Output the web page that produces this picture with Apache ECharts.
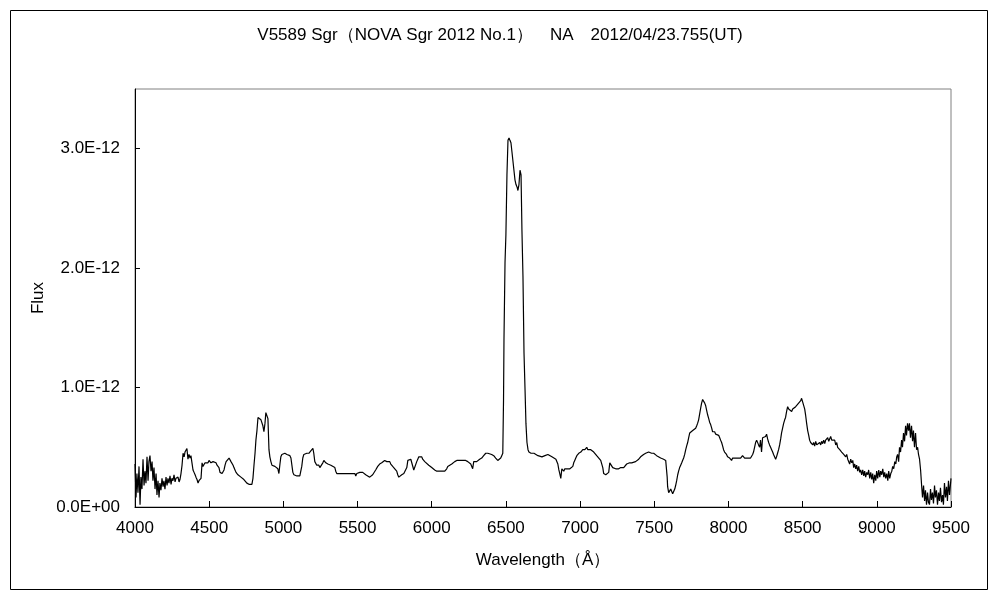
<!DOCTYPE html>
<html>
<head>
<meta charset="utf-8">
<script src="https://cdn.jsdelivr.net/npm/echarts@6/dist/echarts.min.js"></script>
<style>
  html, body { margin: 0; padding: 0; background: #fff; }
  #chart { width: 1000px; height: 600px; }
</style>
</head>
<body>
<div id="chart"></div>
<script>
const chartTitle = 'V5589 Sgr（NOVA Sgr 2012 No.1）　NA　2012/04/23.755(UT)';
const xName = 'Wavelength（Å）';
const yName = 'Flux';
const xTicks = [4000, 4500, 5000, 5500, 6000, 6500, 7000, 7500, 8000, 8500, 9000, 9500];
const yTicks = [0, 1, 2, 3];   // 単位 1E-12

// 波長 (Å)
const wavelength = [
  4000,4007,4013,4020,4027,4034,4040,4047,4054,4061,4067,4074,4081,4088,4094,4101,4108,4115,4121,4128,
  4135,4142,4148,4155,4162,4168,4175,4182,4189,4195,4202,4209,4216,4222,4229,4236,4243,4249,4256,4263,
  4270,4276,4283,4290,4297,4303,4310,4317,4324,4331,4337,4344,4350,4357,4364,4371,4377,4384,4391,4398,
  4405,4411,4418,4425,4431,4438,4445,4452,4458,4465,4472,4479,4485,4492,4499,4506,4512,4519,4526,4533,
  4539,4546,4553,4560,4566,4573,4580,4587,4593,4600,4607,4614,4620,4627,4634,4640,4647,4654,4661,4667,
  4674,4681,4694,4701,4714,4721,4734,4741,4754,4761,4768,4775,4781,4788,4795,4802,4809,4815,4822,4829,
  4835,4842,4849,4856,4862,4869,4876,4882,4889,4896,4903,4909,4916,4923,4930,4936,4943,4950,4956,4963,
  4970,4977,4983,4990,4997,5003,5010,5017,5024,5030,5037,5044,5051,5057,5064,5071,5077,5091,5104,5111,
  5118,5124,5131,5138,5145,5151,5158,5165,5172,5178,5185,5192,5199,5205,5212,5219,5225,5232,5239,5246,
  5252,5259,5266,5273,5279,5286,5293,5300,5306,5313,5320,5333,5347,5353,5360,5374,5387,5401,5414,5428,
  5441,5455,5468,5482,5488,5495,5501,5515,5528,5535,5548,5555,5568,5582,5589,5602,5609,5622,5636,5649,
  5663,5670,5683,5690,5697,5703,5717,5724,5730,5737,5751,5764,5771,5778,5784,5798,5812,5825,5832,5839,
  5845,5852,5859,5865,5872,5879,5885,5892,5899,5906,5913,5919,5926,5933,5939,5946,5953,5966,5980,5987,
  6000,6007,6020,6034,6047,6061,6074,6088,6101,6108,6121,6135,6142,6155,6169,6175,6189,6202,6209,6222,
  6229,6243,6256,6263,6270,6276,6283,6290,6303,6310,6323,6337,6344,6350,6357,6364,6378,6391,6404,6411,
  6418,6424,6431,6438,6445,6451,6458,6465,6472,6479,6484,6487,6494,6500,6507,6514,6521,6527,6534,6541,
  6548,6554,6561,6568,6575,6581,6588,6595,6602,6608,6615,6622,6629,6635,6642,6649,6655,6662,6669,6676,
  6689,6702,6716,6729,6743,6756,6763,6770,6783,6790,6796,6810,6823,6837,6843,6850,6857,6863,6870,6877,
  6884,6890,6897,6904,6911,6917,6924,6931,6937,6944,6951,6957,6964,6971,6978,6984,6991,7005,7018,7025,
  7032,7038,7045,7052,7058,7065,7072,7078,7092,7105,7112,7119,7126,7132,7139,7146,7153,7159,7166,7173,
  7179,7186,7193,7200,7206,7213,7220,7227,7240,7253,7260,7274,7287,7294,7307,7314,7321,7334,7348,7361,
  7374,7381,7395,7408,7415,7428,7442,7449,7462,7469,7482,7496,7509,7516,7529,7543,7556,7563,7577,7584,
  7587,7590,7597,7604,7611,7617,7624,7631,7638,7644,7651,7658,7664,7671,7678,7685,7691,7698,7705,7712,
  7718,7725,7732,7739,7745,7752,7759,7766,7772,7779,7786,7792,7799,7806,7813,7819,7826,7833,7840,7846,
  7853,7860,7867,7873,7880,7887,7893,7900,7907,7914,7920,7927,7934,7941,7947,7954,7961,7967,7974,7981,
  7987,7994,8001,8008,8014,8021,8028,8035,8041,8048,8055,8062,8068,8075,8082,8088,8095,8102,8109,8115,
  8122,8129,8136,8142,8149,8156,8163,8169,8176,8183,8190,8196,8203,8210,8216,8223,8230,8237,8243,8250,
  8257,8264,8271,8277,8284,8291,8298,8304,8311,8318,8324,8331,8338,8345,8352,8358,8365,8372,8379,8385,
  8392,8399,8406,8412,8419,8426,8433,8439,8446,8453,8460,8466,8473,8480,8487,8493,8500,8507,8514,8520,
  8527,8534,8541,8547,8554,8561,8568,8574,8581,8588,8595,8601,8608,8615,8622,8628,8635,8642,8649,8655,
  8662,8669,8676,8682,8689,8696,8703,8709,8716,8723,8730,8736,8743,8750,8757,8763,8770,8777,8784,8790,
  8797,8804,8811,8817,8824,8831,8838,8844,8851,8858,8864,8871,8878,8885,8891,8898,8905,8912,8918,8925,
  8932,8939,8945,8952,8959,8966,8972,8979,8986,8993,8999,9006,9013,9020,9026,9033,9040,9047,9053,9060,
  9067,9074,9080,9087,9094,9101,9107,9114,9121,9128,9134,9140,9147,9153,9160,9167,9173,9180,9187,9194,
  9200,9207,9214,9220,9227,9234,9241,9247,9254,9261,9268,9275,9281,9288,9295,9302,9308,9315,9322,9328,
  9335,9342,9348,9355,9362,9368,9375,9382,9389,9395,9402,9409,9416,9422,9429,9436,9443,9449,9456,9463,
  9470,9476,9483,9490,9500
];

// Flux (×1E-12)
const flux = [
  0.36,0.08,0.28,0.12,0.34,0.02,0.25,0.15,0.40,0.18,0.30,0.20,0.42,0.22,0.38,0.43,0.30,0.38,0.22,0.33,
  0.15,0.28,0.10,0.22,0.08,0.20,0.14,0.24,0.17,0.22,0.15,0.25,0.18,0.24,0.20,0.26,0.19,0.24,0.22,0.27,
  0.21,0.24,0.23,0.25,0.21,0.23,0.28,0.35,0.45,0.42,0.46,0.47,0.49,0.40,0.44,0.41,0.43,0.37,0.31,0.29,
  0.27,0.25,0.23,0.20,0.22,0.22,0.24,0.37,0.34,0.35,0.37,0.38,0.36,0.37,0.39,0.40,0.37,0.36,0.38,0.39,
  0.37,0.37,0.35,0.36,0.33,0.29,0.30,0.28,0.29,0.31,0.35,0.38,0.38,0.39,0.41,0.40,0.38,0.37,0.35,0.33,
  0.31,0.29,0.27,0.26,0.25,0.24,0.23,0.22,0.20,0.21,0.19,0.19,0.18,0.19,0.24,0.35,0.45,0.56,0.64,0.75,
  0.74,0.76,0.73,0.72,0.68,0.63,0.70,0.79,0.80,0.74,0.48,0.42,0.38,0.35,0.36,0.34,0.34,0.35,0.35,0.32,
  0.28,0.36,0.42,0.44,0.45,0.44,0.45,0.44,0.44,0.43,0.44,0.43,0.41,0.41,0.29,0.27,0.26,0.26,0.27,0.26,
  0.26,0.34,0.41,0.44,0.44,0.43,0.45,0.44,0.45,0.46,0.47,0.48,0.49,0.45,0.38,0.37,0.35,0.34,0.35,0.33,
  0.34,0.33,0.37,0.39,0.38,0.37,0.37,0.36,0.35,0.36,0.35,0.34,0.33,0.30,0.28,0.28,0.27,0.28,0.27,0.28,
  0.27,0.28,0.28,0.28,0.26,0.28,0.28,0.29,0.30,0.29,0.29,0.27,0.26,0.25,0.25,0.27,0.28,0.31,0.34,0.36,
  0.37,0.38,0.39,0.39,0.38,0.39,0.38,0.36,0.35,0.34,0.32,0.30,0.27,0.25,0.25,0.27,0.28,0.28,0.33,0.39,
  0.40,0.40,0.40,0.39,0.40,0.31,0.30,0.31,0.38,0.40,0.42,0.43,0.42,0.42,0.40,0.39,0.38,0.37,0.35,0.34,
  0.33,0.32,0.31,0.30,0.30,0.30,0.30,0.30,0.32,0.34,0.35,0.36,0.37,0.38,0.39,0.40,0.39,0.40,0.39,0.38,
  0.39,0.38,0.37,0.36,0.37,0.32,0.38,0.37,0.38,0.39,0.40,0.41,0.42,0.43,0.44,0.45,0.45,0.45,0.44,0.44,
  0.43,0.42,0.41,0.40,0.39,0.39,0.40,0.41,0.43,0.45,0.90,1.40,2.05,2.28,2.78,3.07,3.09,3.07,3.05,2.97,
  2.98,2.96,2.74,2.70,2.68,2.65,2.70,2.82,2.78,2.32,1.93,1.29,0.98,0.70,0.54,0.48,0.46,0.46,0.45,0.45,
  0.45,0.44,0.43,0.43,0.42,0.42,0.43,0.44,0.44,0.44,0.43,0.42,0.41,0.40,0.39,0.36,0.31,0.28,0.24,0.32,
  0.31,0.30,0.32,0.33,0.32,0.31,0.31,0.32,0.31,0.31,0.34,0.37,0.39,0.41,0.43,0.44,0.45,0.46,0.48,0.49,
  0.48,0.49,0.50,0.48,0.48,0.49,0.48,0.48,0.46,0.45,0.43,0.42,0.41,0.40,0.39,0.38,0.33,0.28,0.27,0.27,
  0.27,0.28,0.29,0.37,0.37,0.36,0.33,0.32,0.32,0.33,0.32,0.33,0.33,0.33,0.34,0.36,0.37,0.37,0.37,0.38,
  0.38,0.39,0.40,0.42,0.43,0.44,0.45,0.46,0.46,0.46,0.45,0.45,0.44,0.43,0.42,0.41,0.41,0.40,0.39,0.38,
  0.25,0.17,0.12,0.11,0.15,0.14,0.11,0.12,0.15,0.18,0.22,0.27,0.30,0.33,0.35,0.37,0.39,0.41,0.44,0.48,
  0.51,0.54,0.58,0.62,0.63,0.63,0.64,0.64,0.65,0.66,0.68,0.70,0.73,0.78,0.83,0.87,0.90,0.89,0.87,0.85,
  0.81,0.77,0.74,0.71,0.69,0.66,0.63,0.62,0.63,0.61,0.61,0.60,0.60,0.58,0.56,0.54,0.51,0.48,0.46,0.45,
  0.44,0.42,0.42,0.41,0.41,0.39,0.41,0.40,0.41,0.41,0.42,0.41,0.42,0.42,0.41,0.42,0.43,0.42,0.41,0.42,
  0.41,0.41,0.42,0.41,0.41,0.41,0.44,0.46,0.50,0.54,0.56,0.55,0.52,0.50,0.56,0.46,0.58,0.57,0.58,0.59,
  0.61,0.57,0.54,0.52,0.50,0.48,0.46,0.44,0.42,0.40,0.42,0.45,0.48,0.52,0.57,0.62,0.66,0.70,0.73,0.75,
  0.80,0.84,0.82,0.83,0.81,0.80,0.82,0.83,0.82,0.84,0.85,0.85,0.87,0.86,0.89,0.91,0.88,0.88,0.82,0.77,
  0.70,0.64,0.60,0.56,0.54,0.55,0.52,0.54,0.51,0.55,0.52,0.53,0.51,0.54,0.52,0.55,0.53,0.56,0.53,0.56,
  0.55,0.58,0.55,0.57,0.59,0.56,0.57,0.55,0.56,0.52,0.54,0.50,0.51,0.48,0.49,0.46,0.47,0.44,0.45,0.42,
  0.44,0.40,0.41,0.36,0.40,0.37,0.39,0.33,0.36,0.32,0.35,0.30,0.34,0.29,0.31,0.27,0.31,0.26,0.30,0.25,
  0.29,0.27,0.31,0.24,0.29,0.23,0.28,0.20,0.27,0.22,0.30,0.24,0.31,0.25,0.30,0.27,0.32,0.25,0.29,0.24,
  0.28,0.22,0.30,0.24,0.28,0.30,0.34,0.32,0.38,0.36,0.42,0.44,0.38,0.50,0.46,0.56,0.50,0.62,0.55,0.68,
  0.60,0.70,0.64,0.70,0.58,0.68,0.55,0.64,0.50,0.62,0.48,0.50,0.44,0.40,0.31,0.18,0.08,0.18,0.05,0.14,
  0.02,0.12,0.04,0.02,0.15,0.06,0.12,0.03,0.18,0.08,0.14,0.02,0.12,0.05,0.16,0.04,0.10,0.02,0.20,0.08,
  0.17,0.05,0.22,0.10,0.24
];

const seriesData = wavelength.map((w, i) => [w, flux[i]]);

const chartDom = document.getElementById('chart');
const myChart = echarts.init(chartDom, null, { renderer: 'canvas' });
const fontFamily = 'Liberation Sans';

const option = {
  animation: false,
  backgroundColor: '#fff',
  textStyle: { fontFamily: fontFamily, color: '#000' },
  title: {
    text: chartTitle,
    left: 'center',
    top: 22,
    textStyle: { fontFamily: fontFamily, fontSize: 17, fontWeight: 'normal', color: '#000' }
  },
  graphic: [
    {
      type: 'rect',
      shape: { x: 10.5, y: 10.5, width: 977, height: 579 },
      style: { fill: null, stroke: '#000', lineWidth: 1 },
      silent: true
    }
  ],
  grid: {
    left: 135,
    right: 49,
    top: 89,
    bottom: 93,
    show: true,
    borderColor: '#808080',
    borderWidth: 1,
    containLabel: false,
    outerBoundsMode: 'none'
  },
  xAxis: {
    type: 'value',
    min: xTicks[0],
    max: xTicks[xTicks.length - 1],
    interval: 500,
    name: xName,
    nameLocation: 'middle',
    nameGap: 45,
    nameMoveOverlap: false,
    nameTextStyle: { fontFamily: fontFamily, fontSize: 17, color: '#000' },
    axisLine: { lineStyle: { color: '#000', width: 1 } },
    axisTick: { inside: true, length: 6, lineStyle: { color: '#000' } },
    axisLabel: {
      margin: 13,
      fontSize: 17,
      color: '#000',
      fontFamily: fontFamily,
      formatter: function (v) { return String(v); }
    },
    splitLine: { show: false }
  },
  yAxis: {
    type: 'value',
    min: 0,
    max: 3.5,
    interval: 1,
    name: yName,
    nameLocation: 'middle',
    nameGap: 88,
    nameRotate: 90,
    nameMoveOverlap: false,
    nameTextStyle: { fontFamily: fontFamily, fontSize: 17, color: '#000' },
    axisLine: { show: true, lineStyle: { color: '#000', width: 1 } },
    axisTick: { show: true, inside: true, length: 5, lineStyle: { color: '#000' } },
    axisLabel: {
      margin: 15,
      fontSize: 17,
      color: '#000',
      fontFamily: fontFamily,
      showMaxLabel: false,
      formatter: function (v) {
        if (yTicks.indexOf(v) < 0) return '';
        return v === 0 ? '0.0E+00' : v.toFixed(1) + 'E-12';
      }
    },
    splitLine: { show: false }
  },
  series: [
    {
      name: yName,
      type: 'line',
      data: seriesData,
      showSymbol: false,
      symbol: 'none',
      sampling: null,
      lineStyle: { color: '#000', width: 1.2 },
      emphasis: { disabled: true }
    }
  ]
};

option && myChart.setOption(option);
</script>
</body>
</html>
